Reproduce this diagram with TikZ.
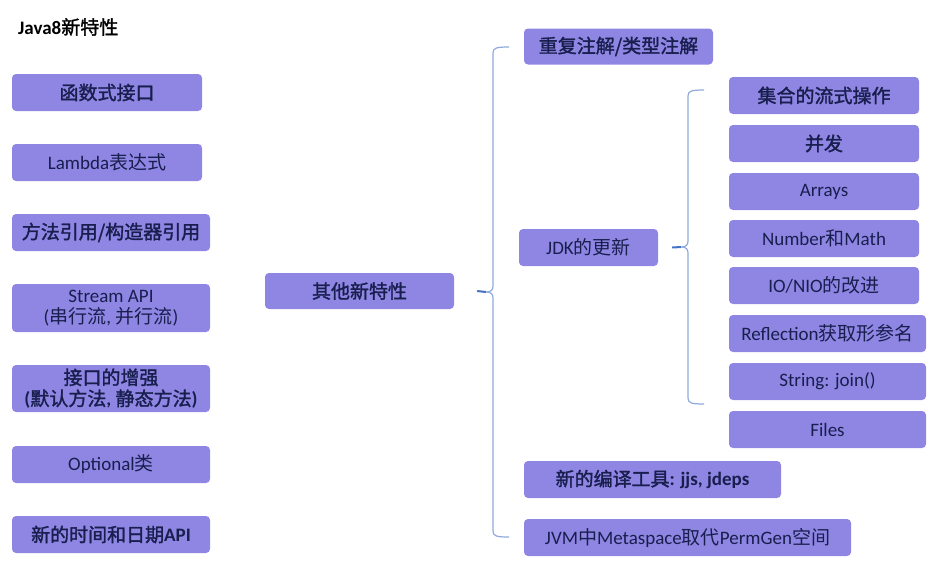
\documentclass[tikz,border=0pt]{standalone}
\usepackage{fontspec}
\setmainfont{Carlito}
\newfontfamily\cjk{Noto Sans CJK SC}[AutoFakeBold=1.6]
\newcommand\zh[1]{{\cjk #1}}
\definecolor{boxc}{RGB}{143,134,227}
\definecolor{txtc}{RGB}{24,30,78}
\definecolor{brl}{RGB}{143,170,220}
\definecolor{brd}{RGB}{68,114,196}
\tikzset{
  box/.style={rectangle, rounded corners=4pt, fill=boxc, text=txtc, inner sep=0pt,
    minimum height=37pt, align=center, font=\fontsize{19}{21}\selectfont},
  bx/.style={box, font=\fontsize{19}{21}\selectfont\bfseries},
  brace/.style={draw=brl, line width=1.2pt},
  tipline/.style={draw=brd, line width=2pt}
}
\begin{document}
\begin{tikzpicture}[x=1pt,y=-1pt]
\useasboundingbox (0,0) rectangle (941,568);
\node[anchor=west, inner sep=0pt, font=\fontsize{19}{21}\selectfont\bfseries] (title) at (18,27) {Java8\zh{新特性}};
% left column
\node[bx, minimum width=190pt] (n1) at (107,92.5) {\zh{函数式接口}};
\node[box, minimum width=190pt] (n2) at (107,162.5) {Lambda\zh{表达式}};
\node[bx, minimum width=198pt] (n3) at (111,232.5) {\zh{方法引用/构造器引用}};
\node[box, minimum width=198pt, minimum height=48pt] (n4) at (111,308) {Stream API\\(\zh{串行流}, \zh{并行流})};
\node[bx, minimum width=198pt, minimum height=47pt] (n5) at (111,388.5) {\zh{接口的增强}\\(\zh{默认方法}, \zh{静态方法})};
\node[box, minimum width=198pt] (n6) at (111,464.5) {Optional\zh{类}};
\node[bx, minimum width=198pt] (n7) at (111,534.5) {\zh{新的时间和日期}API};
% middle
\node[bx, minimum width=189pt, minimum height=36pt] (oth) at (359.5,291) {\zh{其他新特性}};
\node[bx, minimum width=189pt, minimum height=36pt] (rep) at (618.5,46.5) {\zh{重复注解/类型注解}};
\node[box, minimum width=139pt] (jdk) at (588.5,247.5) {JDK\zh{的更新}};
\node[bx, minimum width=257pt] (cmp) at (652.5,479.5) {\zh{新的编译工具}: jjs, jdeps};
\node[box, minimum width=327pt] (jvm) at (687.5,537.5) {JVM\zh{中}Metaspace\zh{取代}PermGen\zh{空间}};
% right column
\node[bx, minimum width=190pt] (r1) at (824,95.5) {\zh{集合的流式操作}};
\node[bx, minimum width=190pt] (r2) at (824,143.5) {\zh{并发}};
\node[box, minimum width=190pt] (r3) at (824,191.5) {Arrays};
\node[box, minimum width=190pt] (r4) at (824,238.5) {Number\zh{和}Math};
\node[box, minimum width=190pt] (r5) at (824,285.5) {IO/NIO\zh{的改进}};
\node[box, minimum width=197pt] (r6) at (827.5,333.5) {Reflection\zh{获取形参名}};
\node[box, minimum width=197pt] (r7) at (827.5,381.5) {String: join()};
\node[box, minimum width=197pt] (r8) at (827.5,429.5) {Files};
% brace 1
\coordinate (b1t) at (509,47);
\coordinate (b1b) at (509,537);
\coordinate (b1m) at (486,292);
\coordinate (b1s) at ([xshift=23pt]oth.east);
\draw[brace] (b1t) .. controls (496,47) and (493,48) .. (493,53) -- (493,286)
  .. controls (493,290) and (491,292) .. (b1m)
  .. controls (491,292) and (493,294) .. (493,298) -- (493,531)
  .. controls (493,536) and (496,537) .. (b1b);
\draw[tipline] (b1s) -- (b1m);
% brace 2
\coordinate (b2t) at (704,90);
\coordinate (b2b) at (704,404);
\coordinate (b2m) at (681,247);
\coordinate (b2s) at ([xshift=14pt]jdk.east);
\draw[brace] (b2t) .. controls (691,90) and (688,91) .. (688,96) -- (688,241)
  .. controls (688,245) and (686,247) .. (b2m)
  .. controls (686,247) and (688,249) .. (688,253) -- (688,398)
  .. controls (688,403) and (691,404) .. (b2b);
\draw[tipline] (b2s) -- (b2m);
\end{tikzpicture}
\end{document}
